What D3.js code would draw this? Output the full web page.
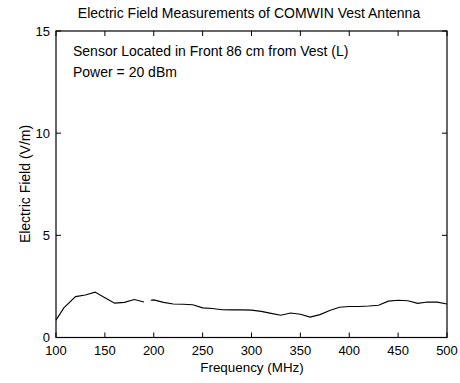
<!DOCTYPE html>
<html><head><meta charset="utf-8">
<script src="https://cdn.jsdelivr.net/npm/d3@7"></script>
<style>
body{margin:0;background:#fff;}
svg{display:block;font-family:"Liberation Sans",Arial,sans-serif;}
</style></head>
<body>
<svg id="c" width="460" height="383"></svg>
<script>
const freqs = [100,108,120,130,140,150,160,170,180,190,193,197,200,210,220,230,240,250,260,270,280,290,300,310,320,330,340,350,360,370,380,390,400,410,420,430,440,450,460,470,480,490,500];
const field = [0.85,1.45,2.0,2.08,2.22,1.95,1.68,1.72,1.86,1.74,null,1.82,1.84,1.72,1.64,1.63,1.6,1.45,1.42,1.36,1.35,1.35,1.34,1.28,1.18,1.09,1.2,1.14,1.0,1.12,1.32,1.48,1.52,1.52,1.54,1.58,1.78,1.82,1.8,1.67,1.74,1.73,1.64];
const xTicks = [100,150,200,250,300,350,400,450,500];
const yTicks = [0,5,10,15];
const title = "Electric Field Measurements of COMWIN Vest Antenna";
const notes = ["Sensor Located in Front 86 cm from Vest (L)", "Power = 20 dBm"];
const xLabel = "Frequency (MHz)";
const yLabel = "Electric Field (V/m)";

const L = 56, R = 447, T = 31, B = 337.5;
const svg = d3.select("#c");
const x = d3.scaleLinear().domain([100,500]).range([L,R]);
const y = d3.scaleLinear().domain([0,15]).range([B,T]);

// frame
svg.append("rect").attr("x",L).attr("y",T).attr("width",R-L).attr("height",B-T)
  .attr("fill","none").attr("stroke","#000").attr("stroke-width",1.2);

const tl = 5;
const g = svg.append("g").attr("stroke","#000").attr("stroke-width",1);
xTicks.forEach(t=>{
  g.append("line").attr("x1",x(t)).attr("x2",x(t)).attr("y1",B).attr("y2",B-tl);
  g.append("line").attr("x1",x(t)).attr("x2",x(t)).attr("y1",T).attr("y2",T+tl);
});
yTicks.forEach(t=>{
  g.append("line").attr("x1",L).attr("x2",L+tl).attr("y1",y(t)).attr("y2",y(t));
  g.append("line").attr("x1",R).attr("x2",R-tl).attr("y1",y(t)).attr("y2",y(t));
});

svg.append("g").selectAll("text").data(xTicks).join("text")
  .attr("x",d=>x(d)).attr("y",B+17.5).attr("text-anchor","middle")
  .attr("font-size",13).text(d=>d);
svg.append("g").selectAll("text").data(yTicks).join("text")
  .attr("x",L-6).attr("y",d=>y(d)+4.5).attr("text-anchor","end")
  .attr("font-size",13).text(d=>d);

const line = d3.line().defined(d=>d[1]!==null).x(d=>x(d[0])).y(d=>y(d[1]));
svg.append("path").datum(freqs.map((f,i)=>[f,field[i]]))
  .attr("d",line).attr("fill","none").attr("stroke","#000").attr("stroke-width",1.1);

svg.append("text").attr("x",249).attr("y",18).attr("text-anchor","middle")
  .attr("font-size",14).text(title);
svg.append("text").attr("x",73).attr("y",56).attr("font-size",14).text(notes[0]);
svg.append("text").attr("x",73).attr("y",77).attr("font-size",14).text(notes[1]);
svg.append("text").attr("x",252).attr("y",372).attr("text-anchor","middle")
  .attr("font-size",13.4).text(xLabel);
svg.append("text").attr("transform","translate(30,184) rotate(-90)").attr("text-anchor","middle")
  .attr("font-size",14).text(yLabel);
</script>
</body></html>
